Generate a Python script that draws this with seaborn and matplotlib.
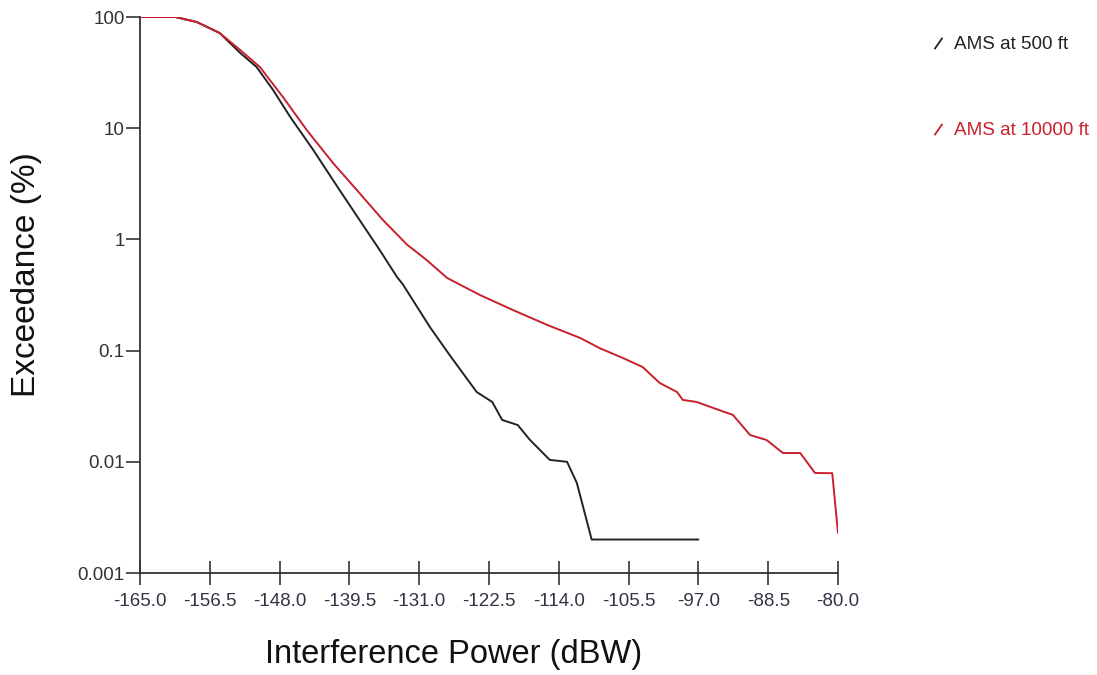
import matplotlib
matplotlib.use("Agg")
import matplotlib.pyplot as plt
import seaborn as sns
import pandas as pd
from matplotlib.lines import Line2D

# ---- data ----
series_names = ["AMS at 500 ft", "AMS at 10000 ft"]

power_500 = [-165.0, -160.7, -158.1, -155.3, -152.8, -150.8, -148.8, -146.7,
             -143.9, -140.7, -137.4, -135.8, -133.7, -133.0, -129.7, -127.3,
             -124.0, -122.1, -120.9, -119.0, -117.5, -115.1, -113.0, -111.8,
             -110.0, -97.0]
exceed_500 = [100, 100, 90.2, 71.8, 47.5, 35.5, 22.1, 12.6,
              6.37, 2.78, 1.20, 0.80, 0.459, 0.395, 0.163, 0.0913,
              0.0424, 0.0345, 0.0238, 0.0214, 0.0157, 0.0104, 0.0100, 0.00645,
              0.0020, 0.0020]

power_10000 = [-165.0, -160.7, -158.1, -155.3, -152.8, -150.4, -147.6, -144.7,
               -141.5, -138.6, -135.4, -132.5, -130.1, -127.6, -123.6, -119.6,
               -115.4, -111.4, -109.0, -106.2, -103.8, -101.7, -99.6, -98.9,
               -97.2, -95.2, -92.8, -90.7, -88.7, -86.7, -84.6, -82.8, -80.7,
               -80.0]
exceed_10000 = [100, 100, 90.2, 71.8, 50.5, 35.5, 19.1, 9.64,
                4.87, 2.78, 1.49, 0.90, 0.653, 0.450, 0.316, 0.232,
                0.170, 0.130, 0.105, 0.0858, 0.0712, 0.0511, 0.0424, 0.036,
                0.0345, 0.0305, 0.0264, 0.0174, 0.0157, 0.0120, 0.0120, 0.00793,
                0.0079, 0.00229]

x_ticks = [-165.0, -156.5, -148.0, -139.5, -131.0, -122.5, -114.0, -105.5,
           -97.0, -88.5, -80.0]
x_tick_labels = ["-165.0", "-156.5", "-148.0", "-139.5", "-131.0", "-122.5",
                 "-114.0", "-105.5", "-97.0", "-88.5", "-80.0"]
y_ticks = [100, 10, 1, 0.1, 0.01, 0.001]
y_tick_labels = ["100", "10", "1", "0.1", "0.01", "0.001"]

colors = ["#222222", "#c8202c"]

df = pd.concat([
    pd.DataFrame({"power": power_500, "exceed": exceed_500, "series": series_names[0]}),
    pd.DataFrame({"power": power_10000, "exceed": exceed_10000, "series": series_names[1]}),
], ignore_index=True)

sns.set_style("white")
plt.rcParams["font.family"] = ["Liberation Sans", "DejaVu Sans"]

fig = plt.figure(figsize=(10.97, 6.75), dpi=100)
ax = fig.add_axes([140 / 1097, 1 - 573 / 675, (838 - 140) / 1097, (573 - 17) / 675])

sns.lineplot(data=df, x="power", y="exceed", hue="series",
             hue_order=series_names, palette=colors, sort=False,
             estimator=None, linewidth=1.4, ax=ax, legend=False)

ax.set_yscale("log")
ax.set_xlim(-165, -80)
ax.set_ylim(0.001, 100)
ax.set_xticks(x_ticks)
ax.set_xticklabels(x_tick_labels)
ax.set_yticks(y_ticks)
ax.set_yticklabels(y_tick_labels)
ax.yaxis.set_minor_locator(matplotlib.ticker.NullLocator())

for s in ["top", "right"]:
    ax.spines[s].set_visible(False)
for s in ["left", "bottom"]:
    ax.spines[s].set_color("#333333")
    ax.spines[s].set_linewidth(1.3)

ax.tick_params(axis="x", bottom=True, direction="inout", length=17, width=1.2,
               color="#333333", labelsize=13.5, pad=6, labelcolor="#333344")
ax.tick_params(axis="y", left=True, direction="out", length=10, width=1.2,
               color="#333333", labelsize=13.5, pad=1, labelcolor="#333333")

ax.set_xlabel("Interference Power (dBW)", fontsize=23.5, color="#111111")
ax.set_ylabel("Exceedance (%)", fontsize=24, color="#111111")
ax.xaxis.set_label_coords((454 - 140) / 698, -(655 - 573) / 556)
ax.xaxis.label.set_va("center")
ax.yaxis.set_label_coords(-(140 - 27) / 698, (573 - 275) / 556)
ax.yaxis.label.set_va("center")

handles = [Line2D([], [], linestyle="none", marker=(2, 0, -35), markersize=10,
                  markeredgewidth=1.3, color=c) for c in colors]
leg = fig.legend(handles, series_names, loc="upper left",
                 bbox_to_anchor=(912 / 1097, 1 - 19 / 675), frameon=False,
                 fontsize=13.6, labelspacing=3.65, handlelength=1.0,
                 handletextpad=0.3, labelcolor=colors)

fig.savefig("out.png", dpi=100)
